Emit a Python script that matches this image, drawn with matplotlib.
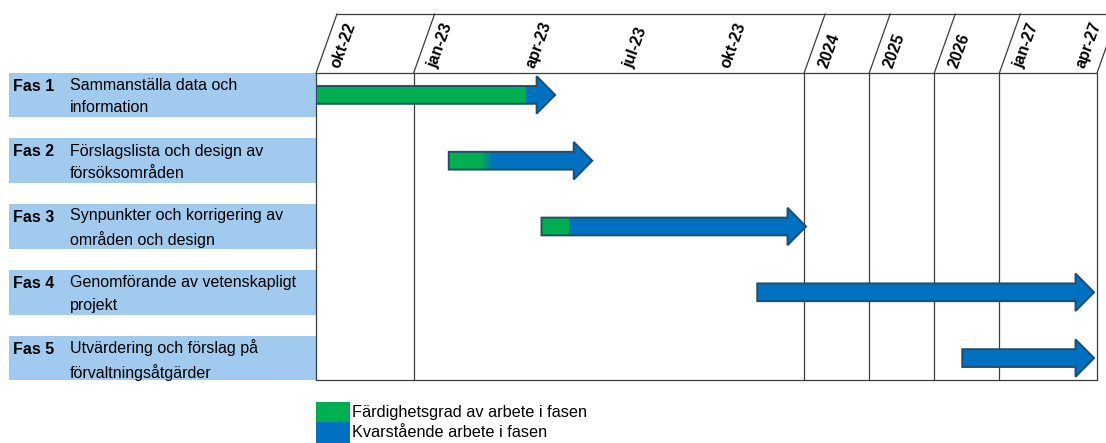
import numpy as np
import matplotlib.pyplot as plt
from matplotlib.patches import Polygon, Rectangle
from matplotlib.colors import to_rgb

plt.rcParams['font.family'] = ['Liberation Sans', 'DejaVu Sans']

# timeline is in "quarter" units: okt-22 = 0, one quarter = 1, a year column = 2/3
col_bounds = [0, 1, 5, 5 + 2/3, 5 + 4/3, 7, 8]
tick_pos = [0, 1, 2, 3, 4, 5, 5 + 2/3, 5 + 4/3, 7, 8]
tick_labels = ['okt-22', 'jan-23', 'apr-23', 'jul-23', 'okt-23',
               '2024', '2025', '2026', 'jan-27', 'apr-27']

phases = ['Fas 1', 'Fas 2', 'Fas 3', 'Fas 4', 'Fas 5']
descriptions = ['Sammanställa data och\ninformation',
                'Förslagslista och design av\nförsöksområden',
                'Synpunkter och korrigering av\nområden och design',
                'Genomförande av vetenskapligt\nprojekt',
                'Utvärdering och förslag på\nförvaltningsåtgärder']
start = [0.0, 1.36, 2.31, 4.52, 6.62]
end = [2.45, 2.83, 5.02, 7.97, 7.97]
done = [2.15, 1.75, 2.59, 4.52, 6.62]

legend_labels = ['Färdighetsgrad av arbete i fasen', 'Kvarstående arbete i fasen']

GREEN = '#00B050'
BLUE = '#0070C0'
LABEL_BG = '#A0CBEF'
EDGE = '#1F4F6A'
LINE = '#3C3C3C'

fig = plt.figure(figsize=(11.06, 4.43), dpi=100)
ax = fig.add_axes([316 / 1106, 63 / 443, 781 / 1106, 307 / 443])
ax.axis('off')

top, bottom = -0.333, 4.333
head_top = -1.23
slant = 0.215
lw = 0.9

# body grid
for b in col_bounds:
    if b in (0, 8):
        continue
    ax.plot([b, b], [top, bottom], color=LINE, lw=lw, clip_on=False)
ax.plot([0, 8, 8, 0, 0], [top, top, bottom, bottom, top], color=LINE, lw=lw, clip_on=False)

# header with slanted separators
for b in col_bounds:
    ax.plot([b, b + slant], [top, head_top], color=LINE, lw=lw, clip_on=False)
ax.plot([slant, 8.3], [head_top, head_top], color=LINE, lw=lw, clip_on=False)
for i, (p, lab) in enumerate(zip(tick_pos, tick_labels)):
    x = p + 0.195 if i < len(tick_pos) - 1 else p - 0.17
    ax.text(x, -0.41, lab, rotation=70, rotation_mode='anchor', ha='left', va='center',
            fontsize=11.5, fontweight='bold', clip_on=False)

# phase labels on the left
for i, (ph, desc) in enumerate(zip(phases, descriptions)):
    ax.add_patch(Rectangle((-3.145, i - 0.338), 3.145, 0.676, facecolor=LABEL_BG,
                           edgecolor='none', clip_on=False, zorder=1))
    ax.text(-3.10, i - 0.135, ph, fontsize=11.5, fontweight='bold', va='center', ha='left',
            clip_on=False, zorder=2)
    ax.text(-2.52, i + 0.025, desc, fontsize=11.5, va='center', ha='left', linespacing=1.6,
            clip_on=False, zorder=2)

# arrows
sh, hh, hl = 0.135, 0.285, 0.19
g, b_ = np.array(to_rgb(GREEN)), np.array(to_rgb(BLUE))
blend = [0.0, 0.13, 0.0, 0.0, 0.0]
for i in range(len(phases)):
    x0, x1, d = start[i], end[i], done[i]
    pts = [(x0, i - sh), (x1 - hl, i - sh), (x1 - hl, i - hh), (x1, i),
           (x1 - hl, i + hh), (x1 - hl, i + sh), (x0, i + sh)]
    poly = Polygon(pts, closed=True, facecolor='none', edgecolor=EDGE, lw=1.4, zorder=4)
    ax.add_patch(poly)
    xs = np.linspace(x0, x1, 600)
    w = blend[i]
    if w > 0:
        f = np.clip((xs - (d - w / 2)) / w, 0, 1)
    else:
        f = (xs >= d).astype(float)
    cols = (1 - f)[:, None] * g + f[:, None] * b_
    im = ax.imshow(cols[None, :, :], extent=[x0, x1, i + hh, i - hh], aspect='auto',
                   interpolation='nearest', zorder=3)
    im.set_clip_path(poly)

# legend
for k, (lab, c) in enumerate(zip(legend_labels, [GREEN, BLUE])):
    ax.add_patch(Rectangle((0, 4.666 + k * 0.31), 0.35, 0.31, facecolor=c,
                           edgecolor='none', clip_on=False))
    ax.text(0.37, 4.83 + k * 0.305, lab, fontsize=11.7, va='center', ha='left', clip_on=False)

ax.set_xlim(0, 8)
ax.set_ylim(bottom, top)

fig.savefig('out.png', dpi=100)
